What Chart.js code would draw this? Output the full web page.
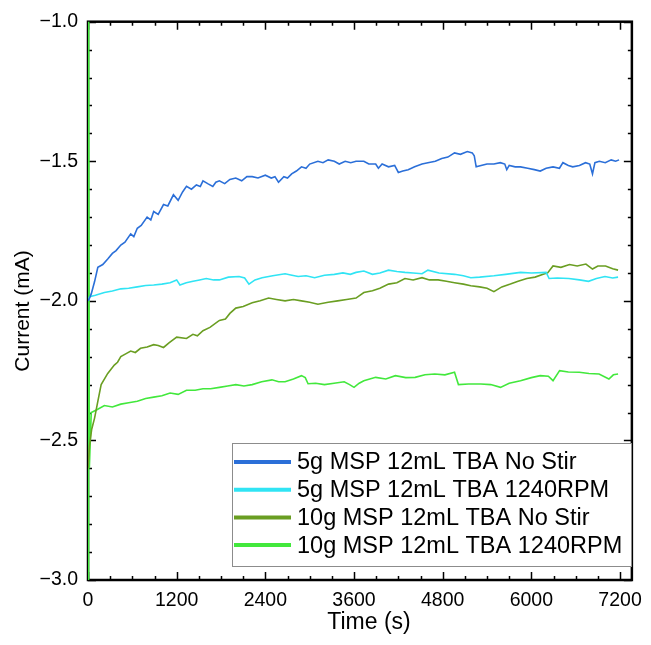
<!DOCTYPE html>
<html>
<head>
<meta charset="utf-8">
<script src="https://cdn.jsdelivr.net/npm/chart.js@4/dist/chart.umd.min.js"></script>
<style>
  html, body { margin: 0; padding: 0; background: #ffffff; }
  #wrap { width: 651px; height: 645px; position: relative; }
</style>
</head>
<body>
<div id="wrap"><canvas id="current_chart" width="651" height="645"></canvas></div>
<script>
// series labels + colours
const series_labels = [
  "5g MSP 12mL TBA No Stir",
  "5g MSP 12mL TBA 1240RPM",
  "10g MSP 12mL TBA No Stir",
  "10g MSP 12mL TBA 1240RPM"
];
const series_colours = ["#2b6fd8", "#30e4f4", "#6a9e22", "#42e83c"];

const x_ticks = [0, 1200, 2400, 3600, 4800, 6000, 7200];
const y_ticks = [-3.0, -2.5, -2.0, -1.5, -1.0];

// 5g no stir
const t_5g_nostir = [0, 20, 44, 90, 133, 200, 267, 330, 380, 444, 500, 578, 620, 667, 720, 800, 850, 889, 950, 1022,
  1080, 1156, 1220, 1280, 1333, 1400, 1467, 1520, 1556, 1620, 1689, 1730, 1778, 1850, 1920, 2000, 2080, 2150, 2222, 2300,
  2400, 2480, 2530, 2578, 2650, 2700, 2756, 2820, 2889, 2950, 3000, 3111, 3180, 3250, 3333, 3400, 3480, 3556, 3627, 3733,
  3800, 3893, 3930, 3980, 4067, 4150, 4200, 4260, 4333, 4420, 4520, 4600, 4700, 4787, 4870, 4960, 5040, 5133, 5200, 5227,
  5253, 5320, 5400, 5493, 5580, 5640, 5667, 5700, 5780, 5853, 5950, 6040, 6120, 6200, 6293, 6380, 6427, 6500, 6560, 6650,
  6733, 6790, 6827, 6860, 6920, 7000, 7080, 7140, 7187];
const i_5g_nostir = [-2.00, -1.99, -1.975, -1.93, -1.88, -1.87, -1.85, -1.83, -1.82, -1.80, -1.79, -1.76, -1.77, -1.74, -1.73, -1.70, -1.71, -1.68, -1.69, -1.655,
  -1.66, -1.62, -1.64, -1.61, -1.59, -1.60, -1.585, -1.59, -1.57, -1.58, -1.59, -1.575, -1.57, -1.58, -1.565, -1.56, -1.57, -1.555, -1.555, -1.56,
  -1.55, -1.56, -1.555, -1.575, -1.555, -1.56, -1.545, -1.535, -1.52, -1.525, -1.51, -1.50, -1.505, -1.495, -1.50, -1.51, -1.50, -1.505, -1.50, -1.50,
  -1.51, -1.51, -1.525, -1.51, -1.52, -1.515, -1.54, -1.535, -1.53, -1.52, -1.51, -1.505, -1.50, -1.49, -1.485, -1.47, -1.475, -1.465, -1.47, -1.48,
  -1.52, -1.515, -1.51, -1.51, -1.505, -1.51, -1.53, -1.515, -1.52, -1.52, -1.525, -1.53, -1.535, -1.525, -1.52, -1.525, -1.505, -1.515, -1.52, -1.515,
  -1.505, -1.51, -1.545, -1.505, -1.50, -1.505, -1.495, -1.50, -1.495];

// 5g 1240 rpm
const t_5g_rpm = [0, 22, 100, 222, 330, 444, 550, 667, 780, 889, 1000, 1111, 1200, 1244, 1330, 1422, 1510, 1600, 1700, 1778,
  1900, 2044, 2120, 2178, 2260, 2356, 2500, 2667, 2760, 2844, 2950, 3067, 3200, 3333, 3450, 3550, 3627, 3733, 3849, 3950,
  4067, 4180, 4289, 4400, 4520, 4600, 4750, 4960, 5080, 5180, 5300, 5493, 5650, 5853, 6000, 6200, 6240, 6350, 6507, 6650,
  6773, 6880, 6996, 7100, 7173];
const i_5g_rpm = [-2.00, -1.985, -1.98, -1.97, -1.965, -1.957, -1.955, -1.95, -1.945, -1.943, -1.94, -1.935, -1.925, -1.943, -1.935, -1.93, -1.925, -1.92, -1.925, -1.925,
  -1.915, -1.913, -1.918, -1.94, -1.925, -1.917, -1.91, -1.903, -1.908, -1.913, -1.91, -1.917, -1.908, -1.905, -1.90, -1.905, -1.898, -1.893, -1.905, -1.90,
  -1.89, -1.895, -1.898, -1.90, -1.903, -1.89, -1.90, -1.905, -1.91, -1.917, -1.915, -1.91, -1.905, -1.898, -1.90, -1.898, -1.92, -1.918, -1.92, -1.925,
  -1.93, -1.92, -1.913, -1.918, -1.915];

// 10g no stir
const t_10g_nostir = [0, 20, 50, 89, 133, 178, 267, 356, 400, 444, 510, 578, 640, 711, 800, 889, 950, 1022, 1100, 1200,
  1333, 1420, 1480, 1556, 1650, 1778, 1860, 1920, 2000, 2100, 2222, 2330, 2444, 2550, 2667, 2780, 2889, 3000, 3111, 3250,
  3378, 3500, 3627, 3733, 3849, 3950, 4067, 4180, 4289, 4400, 4520, 4620, 4738, 4850, 4960, 5080, 5180, 5300, 5400, 5493,
  5600, 5716, 5820, 5938, 6050, 6160, 6220, 6293, 6400, 6516, 6620, 6738, 6827, 6900, 7004, 7100, 7173];
const i_10g_nostir = [-2.60, -2.52, -2.46, -2.42, -2.36, -2.30, -2.26, -2.23, -2.22, -2.20, -2.19, -2.18, -2.185, -2.17, -2.165, -2.157, -2.16, -2.167, -2.15, -2.13,
  -2.135, -2.12, -2.125, -2.107, -2.095, -2.07, -2.065, -2.045, -2.026, -2.02, -2.007, -2.00, -1.99, -1.995, -2.00, -1.995, -2.00, -2.005, -2.012, -2.005,
  -2.00, -1.995, -1.99, -1.97, -1.964, -1.955, -1.94, -1.935, -1.92, -1.925, -1.917, -1.925, -1.925, -1.93, -1.935, -1.94, -1.946, -1.95, -1.955, -1.967,
  -1.95, -1.94, -1.93, -1.92, -1.915, -1.905, -1.90, -1.875, -1.88, -1.87, -1.875, -1.868, -1.886, -1.875, -1.875, -1.885, -1.89];

// 10g 1240 rpm (starts with a spike off the top)
const t_10g_rpm = [0, 8, 18, 44, 120, 222, 330, 444, 550, 667, 780, 889, 1000, 1111, 1220, 1333, 1450, 1556, 1660, 1778,
  1890, 2000, 2110, 2222, 2350, 2489, 2580, 2667, 2780, 2889, 2940, 2978, 3080, 3200, 3330, 3467, 3540, 3600, 3670, 3733,
  3893, 4030, 4160, 4300, 4427, 4560, 4693, 4830, 4960, 5013, 5150, 5316, 5450, 5582, 5700, 5853, 6000, 6120, 6230, 6293,
  6382, 6500, 6649, 6780, 6916, 7049, 7110, 7173];
const i_10g_rpm = [-3.00, -0.80, -2.60, -2.40, -2.39, -2.375, -2.38, -2.37, -2.365, -2.36, -2.35, -2.345, -2.34, -2.33, -2.335, -2.32, -2.32, -2.315, -2.315, -2.31,
  -2.305, -2.30, -2.305, -2.30, -2.29, -2.283, -2.29, -2.29, -2.28, -2.268, -2.275, -2.297, -2.295, -2.30, -2.295, -2.29, -2.30, -2.31, -2.295, -2.286,
  -2.274, -2.28, -2.268, -2.275, -2.274, -2.265, -2.262, -2.265, -2.256, -2.30, -2.298, -2.298, -2.30, -2.31, -2.295, -2.286, -2.275, -2.268, -2.27, -2.286,
  -2.25, -2.255, -2.256, -2.26, -2.262, -2.28, -2.265, -2.262];

const series_times = [t_5g_nostir, t_5g_rpm, t_10g_nostir, t_10g_rpm];
const series_values = [i_5g_nostir, i_5g_rpm, i_10g_nostir, i_10g_rpm];

const font_family = "'Liberation Sans', Arial, Helvetica, sans-serif";

function toPoints(times, values) {
  return times.map((t, i) => ({ x: t, y: values[i] }));
}

function minus(v) {
  return v.toFixed(1).replace("-", "\u2212");
}

// boxed frame with inward major/minor ticks on all four sides
const framePlugin = {
  id: "framePlugin",
  beforeDatasetsDraw(chart) {
    const { ctx, chartArea: a, scales } = chart;
    const xs = scales.x, ys = scales.y;
    ctx.save();
    ctx.strokeStyle = "#000";
    ctx.lineWidth = 1.5;
    ctx.beginPath();
    for (let k = 0; k * 300 <= xs.max; k++) {
      const px = Math.round(xs.getPixelForValue(k * 300)) + 0.5;
      const len = k % 4 === 0 ? 8 : 4;
      ctx.moveTo(px, a.bottom); ctx.lineTo(px, a.bottom - len);
      ctx.moveTo(px, a.top); ctx.lineTo(px, a.top + len);
    }
    for (let k = 0; k <= 20; k++) {
      const py = Math.round(ys.getPixelForValue(-3 + k * 0.1)) + 0.5;
      const len = k % 5 === 0 ? 8 : 4;
      ctx.moveTo(a.left, py); ctx.lineTo(a.left + len, py);
      ctx.moveTo(a.right, py); ctx.lineTo(a.right - len, py);
    }
    ctx.stroke();
    ctx.lineWidth = 2.5;
    ctx.strokeRect(a.left, a.top, a.right - a.left, a.bottom - a.top);
    ctx.restore();
  }
};

// legend box inside the plot + axis titles
const legendPlugin = {
  id: "legendPlugin",
  afterDraw(chart) {
    const { ctx } = chart;
    ctx.save();
    ctx.fillStyle = "#fff";
    ctx.fillRect(232, 443, 399, 123);
    ctx.strokeStyle = "#8c8c8c";
    ctx.lineWidth = 1;
    ctx.strokeRect(232.5, 443.5, 399, 123);
    ctx.font = "23.5px " + font_family;
    ctx.textBaseline = "middle";
    chart.data.datasets.forEach((ds, i) => {
      const y = 462 + i * 27.7;
      ctx.strokeStyle = ds.borderColor;
      ctx.lineWidth = 4;
      ctx.beginPath();
      ctx.moveTo(234, y); ctx.lineTo(291, y);
      ctx.stroke();
      ctx.fillStyle = "#000";
      ctx.fillText(ds.label, 297, y + 1);
    });

    ctx.textAlign = "center";
    ctx.font = "23px " + font_family;
    ctx.fillText("Time (s)", 369, 623);
    ctx.font = "21px " + font_family;
    ctx.translate(23, 311);
    ctx.rotate(-Math.PI / 2);
    ctx.fillText("Current (mA)", 0, 0);
    ctx.restore();
  }
};

const chart_datasets = series_labels.map((label, i) => ({
  label: label,
  data: toPoints(series_times[i], series_values[i]),
  borderColor: series_colours[i],
  backgroundColor: series_colours[i],
  borderWidth: 1.6,
  pointRadius: 0,
  showLine: true,
  tension: 0
}));

const ctx = document.getElementById("current_chart").getContext("2d");

new Chart(ctx, {
  type: "scatter",
  data: { datasets: chart_datasets },
  options: {
    responsive: false,
    animation: false,
    layout: { padding: { left: 0, top: 20, right: 12, bottom: 0 } },
    plugins: {
      legend: { display: false },
      tooltip: { enabled: false }
    },
    scales: {
      x: {
        type: "linear",
        min: 0,
        max: 7360,
        afterFit: (s) => { s.height = 65; },
        afterBuildTicks: (s) => { s.ticks = x_ticks.map((v) => ({ value: v })); },
        grid: { display: false, drawTicks: false },
        border: { display: false },
        ticks: {
          padding: 9,
          color: "#000",
          font: { size: 19.5, family: font_family },
          maxRotation: 0,
          callback: (v) => String(v)
        }
      },
      y: {
        type: "linear",
        min: -3,
        max: -1,
        afterFit: (s) => { s.width = 88; },
        afterBuildTicks: (s) => { s.ticks = y_ticks.map((v) => ({ value: v })); },
        grid: { display: false, drawTicks: false },
        border: { display: false },
        ticks: {
          padding: 10,
          color: "#000",
          font: { size: 19.5, family: font_family },
          callback: (v) => minus(v)
        }
      }
    }
  },
  plugins: [framePlugin, legendPlugin]
});
</script>
</body>
</html>
